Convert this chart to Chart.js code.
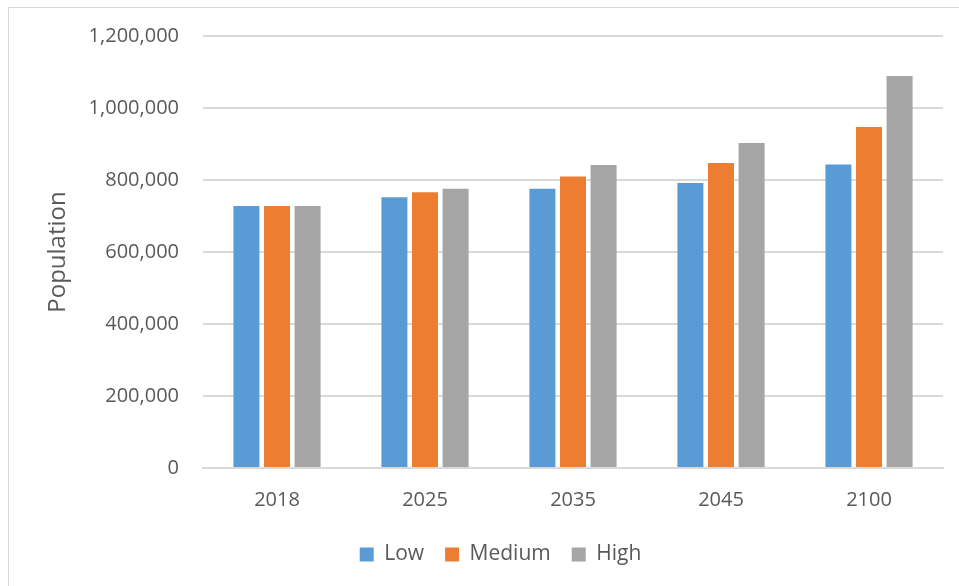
<!DOCTYPE html>
<html>
<head>
<meta charset="utf-8">
<script src="https://cdn.jsdelivr.net/npm/chart.js@4"></script>
<style>
  html, body { margin: 0; padding: 0; background: #fff; overflow: hidden; }
  #frame { position: absolute; left: 8px; top: 7px; width: 960px; height: 590px;
           border-left: 1px solid #d9d9d9; border-top: 1px solid #d9d9d9; }
  #chart { position: absolute; left: 0; top: 0; }
</style>
</head>
<body>
<div id="frame"></div>
<canvas id="chart" width="959" height="586"></canvas>
<script>
// values
const years = ['2018', '2025', '2035', '2045', '2100'];
const lowValues = [728000, 752000, 776000, 792000, 843000];
const mediumValues = [728000, 766000, 810000, 847000, 947000];
const highValues = [728000, 776000, 842000, 903000, 1089000];

const textColor = '#595959';
const gridColor = '#d9d9d9';
const fontFamily = '"Open Sans", "DejaVu Sans", sans-serif';

const ctx = document.getElementById('chart').getContext('2d');
new Chart(ctx, {
  type: 'bar',
  data: {
    labels: years,
    datasets: [
      { label: 'Low', data: lowValues, backgroundColor: '#5b9bd5' },
      { label: 'Medium', data: mediumValues, backgroundColor: '#ed7d31' },
      { label: 'High', data: highValues, backgroundColor: '#a5a5a5' }
    ]
  },
  options: {
    responsive: false,
    animation: false,
    // left padding keeps the legend centred like the original frame
    layout: { padding: { top: 36, right: 16, bottom: 11, left: 58 } },
    datasets: { bar: { categoryPercentage: 0.62, barPercentage: 0.85 } },
    scales: {
      x: {
        grid: { display: false },
        border: { display: true, color: gridColor, width: 2 },
        ticks: { color: textColor, font: { family: fontFamily, size: 20 }, padding: 12 },
        afterFit: s => { s.height = 55; }
      },
      y: {
        min: 0,
        max: 1200000,
        grid: { color: gridColor, lineWidth: 2, drawTicks: false },
        border: { display: false },
        ticks: {
          stepSize: 200000,
          color: textColor,
          font: { family: fontFamily, size: 20 },
          padding: 24,
          callback: v => v.toLocaleString('en-US')
        },
        title: {
          display: true,
          text: 'Population',
          color: textColor,
          font: { family: fontFamily, size: 24 },
          padding: { top: -14, bottom: 0 }
        },
        afterFit: s => { s.width = 145; }
      }
    },
    plugins: {
      legend: {
        position: 'bottom',
        labels: {
          color: textColor,
          font: { family: fontFamily, size: 21 },
          boxWidth: 14,
          boxHeight: 14,
          padding: 21
        }
      },
      tooltip: { enabled: false }
    }
  }
});
</script>
</body>
</html>
